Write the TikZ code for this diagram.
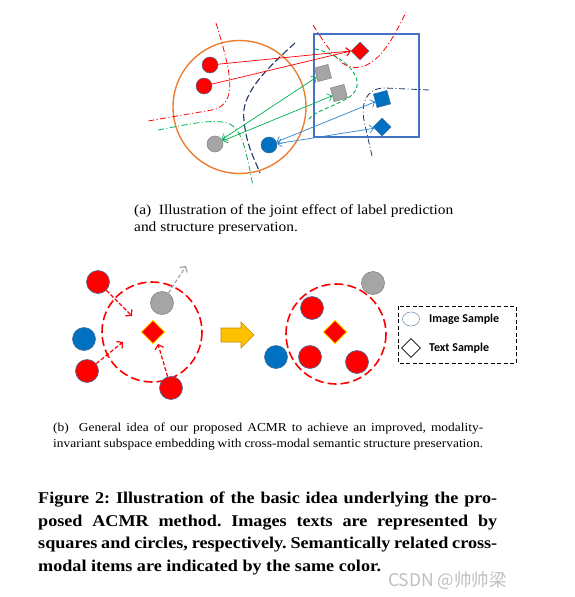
\documentclass[tikz,border=0pt]{standalone}
\usepackage{fontspec}
\setmainfont{Liberation Serif}
\newfontfamily\capfont[FakeStretch=1.1]{Liberation Serif}
\newfontfamily\legfont{Carlito}
\newfontfamily\cjk{Noto Sans CJK SC}
\usepackage{tikz}
\usetikzlibrary{shapes.geometric,arrows.meta}
\definecolor{ptRed}{HTML}{FF0000}
\definecolor{ptGray}{HTML}{A5A5A5}
\definecolor{ptBlue}{HTML}{0070C0}
\definecolor{ptEdge}{HTML}{41719C}
\definecolor{orng}{HTML}{ED7D31}
\definecolor{boxBlue}{HTML}{4472C4}
\definecolor{grn}{HTML}{00B050}
\definecolor{navy}{HTML}{1F3864}
\definecolor{arrBlue}{HTML}{2E86D0}
\definecolor{gold}{HTML}{FFC000}
\definecolor{goldEdge}{HTML}{BF9000}
\tikzset{
  imgPt/.style={circle, minimum size=16pt, inner sep=0pt, draw=ptEdge, line width=0.5pt},
  bigPt/.style={circle, minimum size=23pt, inner sep=0pt, draw=ptEdge, line width=0.6pt},
  txtSq/.style={rectangle, minimum size=14pt, inner sep=0pt, line width=0.5pt, rotate=15},
  txtDm/.style={diamond, minimum size=18pt, inner sep=0pt, line width=0.5pt},
  dashDot/.style={line width=0.8pt, dash pattern=on 6pt off 2.5pt on 1pt off 2.5pt},
  linkArr/.style={-{Straight Barb[length=4pt,width=8pt]}, line width=0.7pt},
  bothArr/.style={{Straight Barb[length=4pt,width=8pt]}-{Straight Barb[length=4pt,width=8pt]}, line width=0.7pt},
  pullArr/.style={-{Straight Barb[length=4pt,width=9pt]}, draw=ptRed, line width=1.2pt, dash pattern=on 4pt off 2pt},
  ring/.style={draw=ptRed, line width=1.6pt, dash pattern=on 9pt off 4pt},
  capText/.style={anchor=base west, inner sep=0pt, font=\capfont\fontsize{14}{17}\selectfont},
  capTextB/.style={anchor=base west, inner sep=0pt, font=\capfont\fontsize{12.2}{16}\selectfont},
  legText/.style={anchor=west, inner sep=0pt, font=\legfont\bfseries\fontsize{12}{14}\selectfont}
}
\frenchspacing
\begin{document}
\begin{tikzpicture}[x=1pt,y=-1pt]
\useasboundingbox[fill=white] (0,0) rectangle (574,597);

% (a) embedding space
\draw[orng, line width=1.4pt] (239.5,107) circle (66.5);
\draw[boxBlue, line width=1.4pt] (314,34) rectangle (419,137);

% class boundaries
\draw[dashDot, ptRed] (216,23) .. controls (232,75) and (238,104) .. (212,110) -- (148,121);
\draw[dashDot, ptRed] (313,25) .. controls (335,60) and (345,70) .. (360,67) .. controls (380,64) and (395,35) .. (406,12);
\draw[dashDot, grn] (158,130) .. controls (190,124) and (215,118) .. (230,124) .. controls (242,130) and (246,150) .. (253,186);
\draw[grn, line width=0.9pt, dash pattern=on 4pt off 2.5pt] (315,49) .. controls (345,55) and (368,80) .. (352,95) .. controls (340,105) and (315,110) .. (308,120);
\draw[navy, line width=1.1pt, dash pattern=on 7pt off 3pt] (295,43) .. controls (265,70) and (240,95) .. (244,120) .. controls (246,145) and (255,160) .. (260,173);
\draw[dashDot, navy] (429,90) -- (385,88) .. controls (365,88) and (360,105) .. (365,125) -- (372,156);

% samples
\node[imgPt, fill=ptRed] (r1) at (210,65) {};
\node[imgPt, fill=ptRed] (r2) at (204,86) {};
\node[imgPt, fill=ptGray, draw=ptGray!80!black] (gc) at (215,144) {};
\node[imgPt, fill=ptBlue] (bc) at (269,145) {};
\node[txtDm, fill=ptRed, draw=ptEdge] (rd) at (360,51) {};
\node[txtSq, fill=ptGray, draw=ptGray!80!black] (gs1) at (323,73) {};
\node[txtSq, fill=ptGray, draw=ptGray!80!black] (gs2) at (339,93) {};
\node[txtSq, fill=ptBlue, draw=ptEdge] (bs) at (382,99) {};
\node[txtDm, fill=ptBlue, draw=ptEdge] (bd) at (382,127) {};

% links
\draw[linkArr, ptRed] (r1) -- (rd.west);
\draw[linkArr, ptRed] (r2) -- (rd.west);
\draw[bothArr, grn] (gc) -- (gs1);
\draw[bothArr, grn] (gc) -- (gs2);
\draw[bothArr, arrBlue] (bc) -- (bs);
\draw[bothArr, arrBlue] (bc) -- (bd);

\node[capText] (capA1) at (134,214) {(a)\ \ Illustration of the joint effect of label prediction};
\node[capText] (capA2) at (134,231) {and structure preservation.};

% (b) before
\draw[ring] (152,332) circle (50);
\node[bigPt, fill=ptRed] (c1) at (98,282) {};
\node[bigPt, fill=ptGray, draw=ptGray!80!black] (c2) at (162,303) {};
\node[bigPt, fill=ptBlue] (c3) at (84,339) {};
\node[bigPt, fill=ptRed] (c4) at (87,371) {};
\node[bigPt, fill=ptRed] (c5) at (171,388) {};
\node[txtDm, minimum size=24pt, fill=ptRed, draw=yellow, line width=0.9pt] (d1) at (153,332) {};
\coordinate (t1) at (132,316);
\coordinate (t4) at (123,342);
\coordinate (t5) at (158,344);
\coordinate (out) at (186,266);
\draw[pullArr] (c1) -- (t1);
\draw[pullArr] (c4) -- (t4);
\draw[pullArr] (c5) -- (t5);
\draw[pullArr, draw=ptGray] (c2) -- (out);

% arrow
\filldraw[fill=gold, draw=goldEdge, line width=0.6pt] (221,328) -- (241,328) -- (241,322) -- (254,335) -- (241,348) -- (241,342) -- (221,342) -- cycle;

% (b) after
\draw[ring] (336,334) circle (50);
\node[bigPt, fill=ptGray, draw=ptGray!80!black] (e1) at (373,283) {};
\node[bigPt, fill=ptRed] (e2) at (312,308) {};
\node[bigPt, fill=ptBlue] (e3) at (276,357) {};
\node[bigPt, fill=ptRed] (e4) at (310,357) {};
\node[bigPt, fill=ptRed] (e5) at (357,362) {};
\node[txtDm, minimum size=24pt, fill=ptRed, draw=yellow, line width=0.9pt] (d2) at (335,332) {};

% legend
\draw[line width=1pt, dash pattern=on 4pt off 2.5pt] (398,306) rectangle (516,363);
\node[ellipse, minimum width=17pt, minimum height=14pt, inner sep=0pt, draw=ptEdge!70, line width=0.6pt] (li) at (411,319) {};
\node[txtDm, minimum size=19pt, draw=black, line width=0.7pt] (lt) at (411,348) {};
\node[legText] (liT) at (429,319) {Image Sample};
\node[legText] (ltT) at (429,348) {Text Sample};

\node[capTextB] (capB1) at (53,431) {\makebox[430pt][s]{(b)\ \ General idea of our proposed ACMR to achieve an improved, modality-}};
\node[capTextB] (capB2) at (53,447) {\makebox[430pt][s]{invariant subspace embedding with cross-modal semantic structure preservation.}};

% figure caption
\begin{scope}[every node/.style={anchor=base west, inner sep=0pt, font=\capfont\bfseries\fontsize{16.5}{22}\selectfont}]
\node (fig1) at (38,503) {\makebox[459pt][s]{Figure 2: Illustration of the basic idea underlying the pro-}};
\node (fig2) at (38,526) {\makebox[459pt][s]{posed ACMR method. Images texts are represented by}};
\node (fig3) at (38,548) {\makebox[459pt][s]{squares and circles, respectively. Semantically related cross-}};
\node (fig4) at (38,571) {modal items are indicated by the same color.};
\end{scope}
\node[anchor=base west, inner sep=0pt, text=black!25, font=\cjk\fontsize{17.5}{20}\selectfont] (wm) at (388,586) {CSDN @帅帅梁};
\end{tikzpicture}
\end{document}
